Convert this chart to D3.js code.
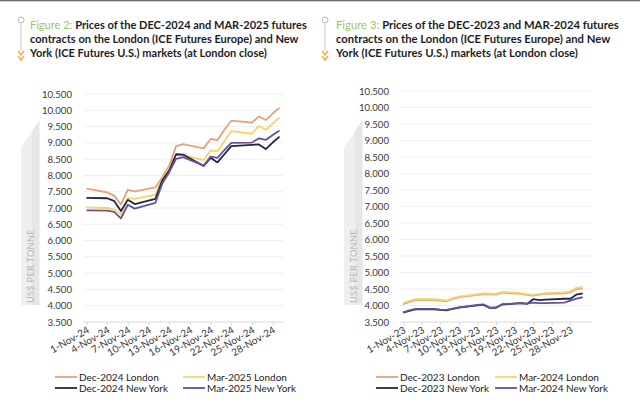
<!DOCTYPE html>
<html><head><meta charset="utf-8">
<script src="https://cdn.jsdelivr.net/npm/d3@7"></script>
<style>
html,body{margin:0;padding:0;background:#fff;}
svg{display:block;font-family:Lato,"Open Sans",sans-serif;}
</style>
</head><body>
<svg id="c" width="640" height="416"></svg>
<script>
// ---------- DATA ----------
const datesA = ["2024-11-01","2024-11-04","2024-11-05","2024-11-06","2024-11-07","2024-11-08","2024-11-11","2024-11-12","2024-11-13","2024-11-14","2024-11-15","2024-11-18","2024-11-19","2024-11-20","2024-11-21","2024-11-22","2024-11-25","2024-11-26","2024-11-27","2024-11-28","2024-11-29"];
const dec24London = [7595,7480,7380,7110,7560,7510,7630,7950,8300,8900,8960,8830,9120,9080,9400,9680,9620,9810,9700,9900,10080];
const mar25London = [7020,7000,6960,6800,7310,7280,7410,7900,8200,8640,8620,8470,8770,8740,9050,9360,9280,9520,9400,9590,9780];
const dec24NewYork = [7310,7300,7220,6910,7250,7120,7280,7850,8150,8650,8640,8290,8540,8400,8650,8900,8940,8950,8810,9010,9190];
const mar25NewYork = [6930,6920,6880,6680,7100,6980,7160,7750,8100,8510,8560,8300,8580,8540,8780,9000,9010,9140,9090,9240,9380];
const xTicksA = ["2024-11-01","2024-11-04","2024-11-07","2024-11-10","2024-11-13","2024-11-16","2024-11-19","2024-11-22","2024-11-25","2024-11-28"];

const datesB = ["2023-11-01","2023-11-02","2023-11-03","2023-11-06","2023-11-07","2023-11-08","2023-11-09","2023-11-10","2023-11-13","2023-11-14","2023-11-15","2023-11-16","2023-11-17","2023-11-20","2023-11-21","2023-11-22","2023-11-23","2023-11-24","2023-11-27","2023-11-28","2023-11-29","2023-11-30"];
const dec23London = [4040,4110,4160,4165,4150,4125,4200,4245,4320,4340,4335,4330,4390,4350,4320,4300,4330,4350,4370,4400,4500,4520];
const mar24London = [4070,4140,4190,4190,4175,4150,4225,4270,4345,4365,4360,4355,4415,4375,4345,4325,4355,4375,4395,4430,4535,4555];
const dec23NewYork = [3780,3840,3885,3885,3865,3855,3895,3935,4005,4020,3925,3930,4030,4070,4050,4190,4160,4180,4205,4205,4330,4370];
const mar24NewYork = [3790,3850,3895,3895,3875,3865,3905,3945,4015,4030,3935,3940,4040,4075,4055,4090,4075,4075,4090,4150,4210,4250];
const xTicksB = ["2023-11-01","2023-11-04","2023-11-07","2023-11-10","2023-11-13","2023-11-16","2023-11-19","2023-11-22","2023-11-25","2023-11-28"];

const yTicks = [3500,4000,4500,5000,5500,6000,6500,7000,7500,8000,8500,9000,9500,10000,10500];
const seriesNamesA = ["Dec-2024 London","Mar-2025 London","Dec-2024 New York","Mar-2025 New York"];
const seriesNamesB = ["Dec-2023 London","Mar-2024 London","Dec-2023 New York","Mar-2024 New York"];
const titleFigA = "Figure 2:";
const titleA = ["Prices of the DEC-2024 and MAR-2025 futures","contracts on the London (ICE Futures Europe) and New","York (ICE Futures U.S.) markets (at London close)"];
const titleFigB = "Figure 3:";
const titleB = ["Prices of the DEC-2023 and MAR-2024 futures","contracts on the London (ICE Futures Europe) and New","York (ICE Futures U.S.) markets (at London close)"];
const yAxisLabel = "US$ PER TONNE";

// ---------- STYLE ----------
const colors = ["#e2a37a","#f5d46a","#1f2744","#6a4f9c"];
const parse = d3.utcParse("%Y-%m-%d");
const fmtDate = d3.utcFormat("%-d-%b-%y");
const locale = d3.formatLocale({decimal:",",thousands:".",grouping:[3],currency:["$",""]});
const fmtY = locale.format(",");

const svg = d3.select("#c");
svg.append("rect").attr("x",0).attr("y",0).attr("width",640).attr("height",1).attr("fill","#6b6b6b");
svg.append("rect").attr("x",0).attr("y",1).attr("width",640).attr("height",1).attr("fill","#cfcfcf");

function panel(cfg){
  const g = svg.append("g");
  // title icon
  g.append("circle").attr("cx",cfg.iconX).attr("cy",20).attr("r",3).attr("fill","#fff").attr("stroke","#b5b5b5").attr("stroke-width",1);
  g.append("line").attr("x1",cfg.iconX).attr("x2",cfg.iconX).attr("y1",23).attr("y2",51).attr("stroke","#c8c8c8").attr("stroke-width",1);
  [51,56].forEach(yy=>{
    g.append("path").attr("d",`M${cfg.iconX-3},${yy} L${cfg.iconX},${yy+4} L${cfg.iconX+3},${yy}`).attr("fill","none").attr("stroke","#f0b04a").attr("stroke-width",1.6);
  });
  // title
  const tt = g.append("text").attr("font-weight",700).attr("fill","#1e1e1e").attr("font-size",12);
  const l1 = tt.append("tspan").attr("x",cfg.titleX).attr("y",29);
  l1.append("tspan").attr("fill","#9dc45f").attr("font-weight",400).text(cfg.fig+" ");
  l1.append("tspan").text(cfg.title[0]);
  tt.append("tspan").attr("x",cfg.titleX).attr("y",43).text(cfg.title[1]);
  tt.append("tspan").attr("x",cfg.titleX).attr("y",57).text(cfg.title[2]);
  const w = tt.node().getBBox().width;
  tt.attr("font-size", 12*cfg.titleW/w);

  // y-axis ribbon
  const rx = cfg.ribbonX;
  g.append("path").attr("d",`M${rx},148 L${rx+11},131 L${rx+11},305 L${rx},305 Z`).attr("fill","#efefef");
  g.append("path").attr("d",`M${rx+11},131 L${rx+18.5},120 L${rx+18.5},305 L${rx+11},305 Z`).attr("fill","#e6e6e6");
  g.append("text").attr("transform",`translate(${rx+13},303) rotate(-90)`)
    .attr("font-size",9.2).attr("fill","#b9b9b9").attr("letter-spacing",0.3).text(yAxisLabel);

  const x = d3.scaleUtc().domain(cfg.xDomain.map(s=>new Date(s))).range(cfg.xRange);
  const y = d3.scaleLinear().domain([3500,10500]).range(cfg.yRange);

  // gridlines
  g.append("g").selectAll("line").data(yTicks).join("line")
    .attr("x1",cfg.xRange[0]).attr("x2",cfg.xRange[1])
    .attr("y1",d=>y(d)).attr("y2",d=>y(d))
    .attr("stroke",d=>d===3500?"#d9d9d9":"#efefef").attr("stroke-width",1);

  // y axis labels
  const ya = g.append("g").attr("transform",`translate(${cfg.xRange[0]-8},0)`)
    .call(d3.axisLeft(y).tickValues(yTicks).tickSize(0).tickFormat(fmtY));
  ya.select(".domain").remove();
  ya.selectAll("text").attr("font-family","Lato").attr("font-size",9.6).attr("fill","#3a3a3a");

  // x axis
  const xa = g.append("g").attr("transform",`translate(0,${cfg.yRange[0]})`)
    .call(d3.axisBottom(x).tickValues(cfg.xTicks.map(parse)).tickSize(3).tickFormat(fmtDate));
  xa.select(".domain").remove();
  xa.selectAll("line").attr("stroke","#d9d9d9");
  xa.selectAll("text").attr("font-family","Lato").attr("font-size",10).attr("fill","#3a3a3a")
    .attr("text-anchor","end").attr("dy","0").attr("y",0)
    .attr("transform","translate(3,10) rotate(-30)");

  // lines
  const dates = cfg.dates.map(parse);
  const line = d3.line().x(d=>x(d[0])).y(d=>y(d[1]));
  cfg.series.forEach((s,i)=>{
    g.append("path").datum(dates.map((d,j)=>[d,s[j]]))
      .attr("d",line).attr("fill","none").attr("stroke",colors[i]).attr("stroke-width",1.8)
      .attr("stroke-linejoin","round");
  });

  // legend
  const lg = g.append("g").attr("font-size",10).attr("fill","#222");
  cfg.names.forEach((n,i)=>{
    const col = i%2, row = Math.floor(i/2);
    const lx = cfg.legX[col], ly = 377 + row*11;
    lg.append("line").attr("x1",lx).attr("x2",lx+22).attr("y1",ly).attr("y2",ly).attr("stroke",colors[i]).attr("stroke-width",1.8);
    lg.append("text").attr("x",lx+24).attr("y",ly+3.5).text(n);
  });
}

panel({iconX:21,titleX:30,titleW:278,fig:titleFigA,title:titleA,ribbonX:21,
  xDomain:["2024-10-31T12:00:00Z","2024-11-29T12:00:00Z"],
  xRange:[83,283],yRange:[322,94],dates:datesA,xTicks:xTicksA,
  series:[dec24London,mar25London,dec24NewYork,mar25NewYork],names:seriesNamesA,legX:[55,183]});
panel({iconX:325,titleX:336,titleW:284,fig:titleFigB,title:titleB,ribbonX:344,
  xDomain:["2023-10-31T12:00:00Z","2023-12-01T12:00:00Z"],
  xRange:[400,592],yRange:[322,91],dates:datesB,xTicks:xTicksB,
  series:[dec23London,mar24London,dec23NewYork,mar24NewYork],names:seriesNamesB,legX:[376,495]});
</script>
</body></html>
